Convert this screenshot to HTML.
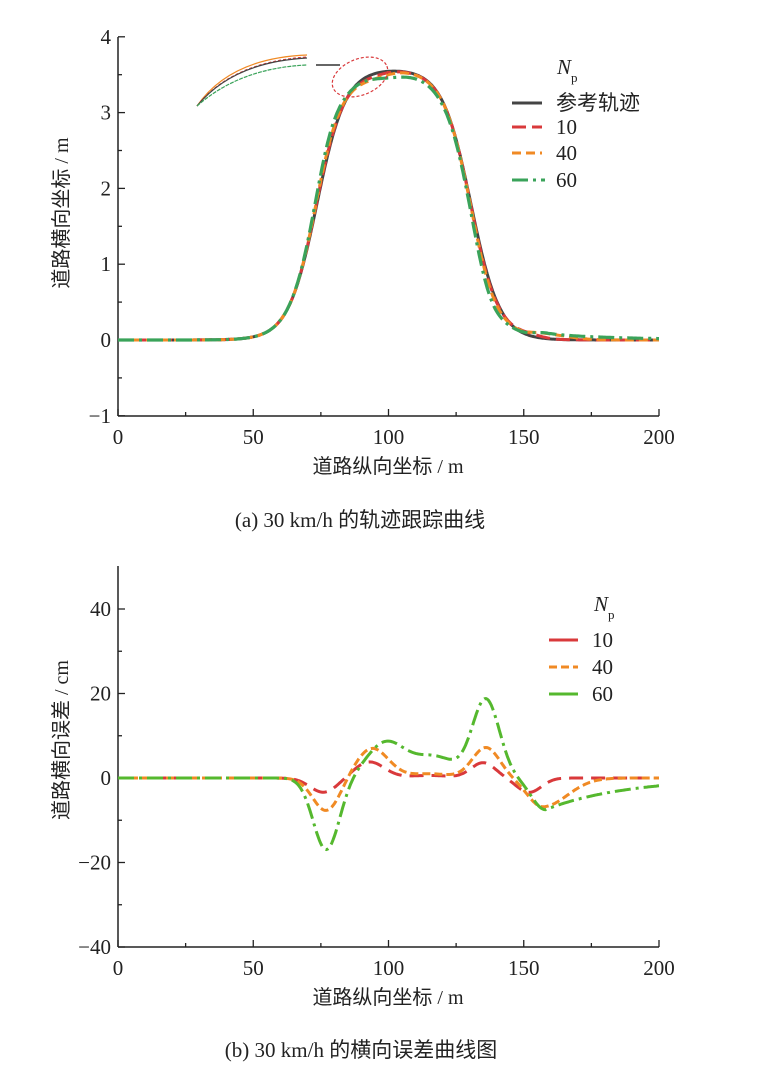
<!DOCTYPE html>
<html><head><meta charset="utf-8"><style>
html,body{margin:0;padding:0;background:#fff;width:766px;height:1071px;overflow:hidden}
svg{display:block}
.t{font-family:"Liberation Serif","Noto Serif CJK SC",serif;font-size:21px;fill:#222}
.c{font-family:"Liberation Serif","Noto Sans CJK SC",sans-serif;font-size:20px;fill:#222}
</style></head><body>
<svg id="s" width="766" height="1071" xmlns="http://www.w3.org/2000/svg">
<g id="g1"></g>
<g id="g2"></g>
<g fill="none" stroke-width="1.2">
<path d="M197,106 Q230,58 307,55" stroke="#f08a24"/>
<path d="M197,106 Q232,62 307,57" stroke="#d9393b" stroke-dasharray="3,2"/>
<path d="M197,106 Q233,62 307,58" stroke="#444"/>
<path d="M197,106 Q240,68 307,65" stroke="#3aa35a" stroke-dasharray="4,1"/>
<line x1="316" y1="65" x2="340" y2="65" stroke="#333" stroke-width="1.5"/>
<ellipse cx="360" cy="77" rx="29" ry="18" transform="rotate(-22 360 77)" stroke="#d9393b" stroke-dasharray="3,2"/>
</g>
<text x="557" y="74" class="t" font-style="italic">N</text><text x="571" y="82" class="t" style="font-size:13px">p</text>
<line x1="512" y1="103" x2="542" y2="103" stroke="#444" stroke-width="3"/>
<text x="556" y="110" class="c" style="font-size:21px">参考轨迹</text>
<line x1="512" y1="127" x2="542" y2="127" stroke="#d9393b" stroke-width="3" stroke-dasharray="14,6"/>
<text x="556" y="134" class="t">10</text>
<line x1="512" y1="153" x2="542" y2="153" stroke="#f08a24" stroke-width="3" stroke-dasharray="9,5"/>
<text x="556" y="160" class="t">40</text>
<line x1="512" y1="180" x2="545" y2="180" stroke="#3aa35a" stroke-width="3" stroke-dasharray="16,5,3,5"/>
<text x="556" y="187" class="t">60</text>
<text x="594" y="611" class="t" font-style="italic">N</text><text x="608" y="619" class="t" style="font-size:13px">p</text>
<line x1="549" y1="640" x2="578" y2="640" stroke="#d9393b" stroke-width="3"/>
<text x="592" y="647" class="t">10</text>
<line x1="549" y1="667" x2="578" y2="667" stroke="#f08a24" stroke-width="3" stroke-dasharray="8,4"/>
<text x="592" y="674" class="t">40</text>
<line x1="549" y1="694" x2="578" y2="694" stroke="#55b82e" stroke-width="3"/>
<text x="592" y="701" class="t">60</text>
<text x="0" y="0" class="c" transform="translate(68,213) rotate(-90)" text-anchor="middle">道路横向坐标 / m</text>
<text x="0" y="0" class="c" transform="translate(68,740) rotate(-90)" text-anchor="middle">道路横向误差 / cm</text>
<text x="388" y="473" class="c" text-anchor="middle">道路纵向坐标 / m</text>
<text x="388" y="1004" class="c" text-anchor="middle">道路纵向坐标 / m</text>
<text x="360" y="527" class="c" style="font-size:21px" text-anchor="middle">(a)  30 km/h 的轨迹跟踪曲线</text>
<text x="361" y="1057" class="c" style="font-size:21px" text-anchor="middle">(b)  30 km/h 的横向误差曲线图</text>
</svg>
<script>
var NS="http://www.w3.org/2000/svg";
function el(p,t,a){var e=document.createElementNS(NS,t);for(var k in a)e.setAttribute(k,a[k]);p.appendChild(e);return e;}
function X(x){return 118+x*(541/200);}
function sg(z){return 1/(1+Math.exp(-z));}
function ref(x){return 3.58*(sg((x-73.5)/5.3)-sg((x-130.5)/5.3));}
function g(x,m,s){return Math.exp(-(x-m)*(x-m)/(2*s*s));}
function e10(x){return -3.4*g(x,76,5)+3.8*g(x,93,5.5)+0.6*g(x,115,8)+3.6*g(x,135,4.5)-3.4*g(x,152,4.5);}
function e40(x){var v=-7.8*g(x,77,5)+7*g(x,94,6)+1*g(x,115,8)+7.2*g(x,136,5);
 v+= (x<157)? -6.8*g(x,157,5.5) : -6.8*g(x,157,9);return v;}
function e60(x){var v=-17*g(x,77,4.8)+8.3*g(x,99,7)+5*g(x,117,8)+18.5*g(x,136,5);
 v+= (x<158)? -7.5*g(x,158,5) : -7.5*Math.exp(-(x-158)/30)-(x>158?0:0);
 return v;}
function path(f,Y){var d="";for(var x=0;x<=200;x+=0.5){d+=(x?"L":"M")+X(x).toFixed(1)+","+Y(f(x)).toFixed(1);}return d;}
function axes(G,y0,yb,ys,ticks,minor){
 el(G,"line",{x1:118,y1:y0,x2:118,y2:yb,stroke:"#222","stroke-width":1.5});
 el(G,"line",{x1:118,y1:yb,x2:659,y2:yb,stroke:"#222","stroke-width":1.5});
 for(var i=0;i<=8;i++){var x=X(i*25);el(G,"line",{x1:x,y1:yb,x2:x,y2:yb-(i%2?4:7),stroke:"#222","stroke-width":1.3});
  if(i%2==0){var t=el(G,"text",{x:x,y:yb+28,"class":"t","text-anchor":"middle"});t.textContent=i*25;}}
 minor.forEach(function(v){var y=ys(v);el(G,"line",{x1:118,y1:y,x2:122,y2:y,stroke:"#222","stroke-width":1.3});});
 ticks.forEach(function(v){var y=ys(v);el(G,"line",{x1:118,y1:y,x2:125,y2:y,stroke:"#222","stroke-width":1.3});
  var t=el(G,"text",{x:111,y:y+7,"class":"t","text-anchor":"end"});t.textContent=(v<0?"\u2212"+(-v):v);});
}
var g1=document.getElementById("g1"),g2=document.getElementById("g2");
var Y1=function(v){return 340-v*75.8;};
axes(g1,37,416,Y1,[4,3,2,1,0,-1],[3.5,2.5,1.5,0.5,-0.5]);
el(g1,"path",{d:path(ref,Y1),fill:"none",stroke:"#444","stroke-width":3});
el(g1,"path",{d:path(function(x){return ref(x)-e10(x)/100;},Y1),fill:"none",stroke:"#d9393b","stroke-width":3,"stroke-dasharray":"14,6"});
el(g1,"path",{d:path(function(x){return ref(x)-e40(x)/100;},Y1),fill:"none",stroke:"#f08a24","stroke-width":3,"stroke-dasharray":"9,5"});
el(g1,"path",{d:path(function(x){return ref(x)-e60(x)/100;},Y1),fill:"none",stroke:"#3aa35a","stroke-width":3.2,"stroke-dasharray":"16,5,3,5"});
var Y2=function(v){return 778-v*4.225;};
axes(g2,566,947,Y2,[40,20,0,-20,-40],[30,10,-10,-30]);
el(g2,"path",{d:path(e10,Y2),fill:"none",stroke:"#d9393b","stroke-width":3,"stroke-dasharray":"14,8"});
el(g2,"path",{d:path(e40,Y2),fill:"none",stroke:"#f08a24","stroke-width":3,"stroke-dasharray":"8,4"});
el(g2,"path",{d:path(e60,Y2),fill:"none",stroke:"#55b82e","stroke-width":3,"stroke-dasharray":"16,5,3,5"});
</script>
</body></html>
